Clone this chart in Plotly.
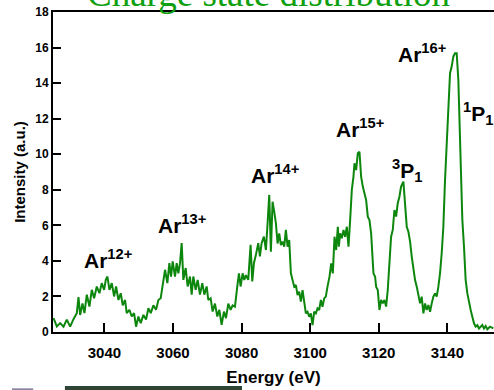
import plotly.graph_objects as go

# Measured argon K-shell emission spectrum
energy_ev = [
    3025.15, 3026.12, 3027.09, 3028.06, 3029.03, 3030.00, 3030.97, 3031.94, 3032.43, 3032.91,
    3033.59, 3034.17, 3034.85, 3035.63, 3036.31, 3036.99, 3037.77, 3038.54, 3039.22, 3039.90,
    3040.39, 3040.87, 3041.46, 3042.14, 3042.82, 3043.40, 3044.08, 3044.76, 3045.34, 3046.02,
    3046.50, 3047.28, 3047.96, 3048.64, 3049.22, 3049.90, 3050.58, 3051.36, 3052.14, 3052.82,
    3053.50, 3054.27, 3055.05, 3055.73, 3056.41, 3056.99, 3057.67, 3058.35, 3058.93, 3059.42,
    3059.90, 3060.58, 3061.07, 3061.55, 3062.04, 3062.52, 3063.01, 3063.69, 3064.27, 3064.95,
    3065.44, 3065.92, 3066.60, 3067.18, 3067.86, 3068.54, 3069.13, 3069.81, 3070.29, 3070.97,
    3071.55, 3072.23, 3072.91, 3073.50, 3074.17, 3074.85, 3075.44, 3076.12, 3076.80, 3077.38,
    3078.06, 3078.74, 3079.22, 3079.71, 3080.29, 3080.78, 3081.26, 3081.94, 3082.62, 3083.11,
    3083.59, 3084.17, 3084.85, 3085.34, 3085.83, 3086.50,
    3087.09, 3087.57, 3088.06, 3088.54, 3089.03, 3089.51, 3090.00, 3090.49, 3090.97, 3091.46,
    3091.94, 3092.43, 3092.91, 3093.40, 3093.88, 3094.37, 3094.85, 3095.34, 3095.83, 3096.31,
    3096.80, 3097.28, 3097.77, 3098.25, 3098.74, 3099.22, 3099.71, 3100.19, 3100.68, 3101.17,
    3101.65, 3102.14, 3102.62, 3103.11, 3103.59, 3104.08, 3104.56, 3105.05,
    3105.63, 3106.12, 3106.60, 3107.09, 3107.57, 3108.06, 3108.35, 3108.74, 3109.22, 3109.71,
    3110.19, 3110.68, 3111.17, 3111.65, 3112.14, 3112.62, 3112.91, 3113.40, 3113.88, 3114.37,
    3114.85, 3115.34, 3115.83, 3116.31, 3116.80, 3117.28, 3117.77, 3118.06, 3118.45, 3118.93,
    3119.22, 3119.71, 3120.19, 3120.68, 3121.17, 3121.65, 3122.14, 3122.62, 3123.11, 3123.59,
    3124.08, 3124.56, 3125.05, 3125.53, 3126.02, 3126.50,
    3127.18, 3127.67, 3128.16, 3128.64, 3129.13, 3129.61, 3130.10, 3130.58, 3131.07, 3131.55,
    3132.04, 3132.52, 3133.01, 3133.50, 3133.98, 3134.47, 3134.95, 3135.44, 3135.92, 3136.41,
    3136.89, 3137.38, 3137.86, 3138.35, 3138.83, 3139.32, 3139.81, 3140.29, 3140.78, 3141.26,
    3141.75, 3142.23, 3142.72, 3143.20, 3143.69, 3143.98, 3144.37, 3144.85, 3145.34, 3145.83,
    3146.31, 3146.80, 3147.28, 3147.77, 3148.25, 3148.74, 3149.22, 3149.71, 3150.19, 3150.68,
    3151.17, 3151.65, 3152.43, 3153.40,
]

intensity = [
    0.78, 0.31, 0.50, 0.30, 0.70, 0.30, 0.72, 1.06, 1.96, 0.96,
    1.60, 1.06, 2.10, 1.43, 2.37, 1.90, 2.56, 2.18, 2.75, 2.37,
    2.93, 3.12, 2.37, 2.75, 2.00, 2.56, 1.80, 2.18, 1.50, 1.80,
    1.06, 1.25, 0.87, 1.06, 0.30, 0.87, 0.50, 0.96, 0.70, 1.34,
    1.06, 1.50, 1.25, 1.80, 1.90, 2.75, 3.50, 2.75, 3.87, 3.12,
    3.97, 3.12, 3.87, 3.30, 3.87, 5.00, 2.93, 3.60, 2.56, 3.12,
    2.10, 3.12, 2.37, 2.93, 2.10, 2.75, 2.10, 2.56, 1.80, 1.90,
    1.15, 1.60, 0.87, 1.25, 0.40, 1.15, 0.78, 1.60, 1.25, 1.50,
    1.43, 2.56, 3.30, 2.56, 3.30, 2.93, 3.20, 2.93, 4.90, 2.84,
    3.87, 4.34, 5.00, 4.25, 5.00, 5.37,
    4.61, 6.11, 7.71, 4.52, 7.33, 6.77, 6.11, 4.98, 5.55, 4.89,
    5.08, 4.80, 5.74, 4.80, 5.17, 3.30, 2.92, 2.55, 2.64, 2.08,
    2.27, 1.71, 2.36, 1.61, 1.05, 1.14, 0.86, 1.05, 0.39, 1.14,
    1.05, 1.33, 1.24, 1.80, 1.42, 1.89, 1.99, 2.55,
    3.11, 3.86, 3.30, 5.36, 4.61, 5.92, 4.80, 5.55, 5.27, 5.74,
    5.36, 5.92, 4.80, 6.30, 7.99, 8.74, 9.49, 9.11, 10.05, 10.14,
    8.74, 8.18, 7.80, 7.43, 6.49, 6.30, 5.55, 4.61, 3.30, 3.11,
    2.55, 2.36, 1.24, 1.80, 1.61, 1.80, 1.43, 2.36, 3.86, 5.36,
    5.74, 6.86, 6.49, 7.24, 7.61, 8.18,
    8.46, 6.99, 5.92, 5.64, 5.08, 4.24, 3.49, 2.92, 2.55, 2.17,
    1.61, 1.99, 1.05, 1.61, 1.24, 1.52, 1.14, 1.61, 1.99, 2.17,
    1.99, 2.55, 3.30, 4.43, 5.92, 8.55, 10.80, 13.05, 14.56, 14.93,
    15.50, 15.68, 15.68, 14.18, 11.00, 8.93, 6.30, 4.80, 2.92, 2.17,
    1.61, 1.24, 0.86, 0.49, 0.30, 0.39, 0.20, 0.30, 0.39, 0.20,
    0.34, 0.15, 0.30, 0.20,
]

# Peak labels: text, energy position, intensity position
peak_labels = ["Ar<sup>12+</sup>", "Ar<sup>13+</sup>", "Ar<sup>14+</sup>",
               "Ar<sup>15+</sup>", "Ar<sup>16+</sup>",
               "<sup>3</sup>P<sub>1</sub>", "<sup>1</sup>P<sub>1</sub>"]
label_x = [3041.0, 3062.5, 3089.7, 3114.4, 3132.6, 3128.2, 3148.9]
label_y = [4.1, 6.1, 8.9, 11.5, 15.7, 9.1, 12.3]

x_ticks = [3040, 3060, 3080, 3100, 3120, 3140]
y_ticks = [0, 2, 4, 6, 8, 10, 12, 14, 16, 18]

LINE_GREEN = "#0d860d"
TITLE_GREEN = "#0fa00f"
FONT = "Liberation Sans, Arial, sans-serif"

fig = go.Figure()
fig.add_trace(go.Scatter(
    x=energy_ev, y=intensity, mode="lines",
    line=dict(color=LINE_GREEN, width=2),
    showlegend=False, hoverinfo="skip",
))

annotations = [
    dict(x=x, y=y, text=t, showarrow=False, xref="x", yref="y",
         xanchor="center", yanchor="middle",
         font=dict(family=FONT, size=21, color="black", weight="bold"))
    for t, x, y in zip(peak_labels, label_x, label_y)
]
annotations.append(dict(
    x=0.4887, y=1.058, xref="paper", yref="paper", text="Charge state distribution",
    showarrow=False, xanchor="center", yanchor="middle",
    font=dict(family="Liberation Serif, Times New Roman, serif", size=37, color=TITLE_GREEN),
))

fig.update_layout(
    width=494, height=390,
    margin=dict(l=53, r=0, t=12, b=58),
    paper_bgcolor="white", plot_bgcolor="white",
    annotations=annotations,
    shapes=[
        dict(type="rect", xref="paper", yref="paper", x0=0.027, x1=0.4286,
             y0=-0.195, y1=-0.169, fillcolor="#2e4536", line=dict(width=0), layer="above"),
        dict(type="rect", xref="paper", yref="paper", x0=-0.093, x1=-0.045,
             y0=-0.195, y1=-0.176, fillcolor="#8c84a3", line=dict(width=0), layer="above"),
    ],
)

fig.update_xaxes(
    range=[3025, 3153.6], tickvals=x_ticks, ticks="inside", ticklen=9, tickwidth=1.5,
    tickcolor="black", showline=True, linecolor="black", linewidth=2, mirror=True,
    showgrid=False, zeroline=False, ticklabelstandoff=6,
    tickfont=dict(family=FONT, size=15, color="black", weight="bold"),
    title=dict(text="Energy (eV)", standoff=11,
               font=dict(family=FONT, size=17, color="black", weight="bold")),
)
fig.update_yaxes(
    range=[0, 18], tickvals=y_ticks, ticks="inside", ticklen=8, tickwidth=1.5,
    tickcolor="black", showline=True, linecolor="black", linewidth=2, mirror=False,
    showgrid=False, zeroline=False,
    tickfont=dict(family=FONT, size=12, color="black", weight="bold"),
    title=dict(text="Intensity (a.u.)", standoff=6,
               font=dict(family=FONT, size=15, color="black", weight="bold")),
)

fig.write_html("out.html")
